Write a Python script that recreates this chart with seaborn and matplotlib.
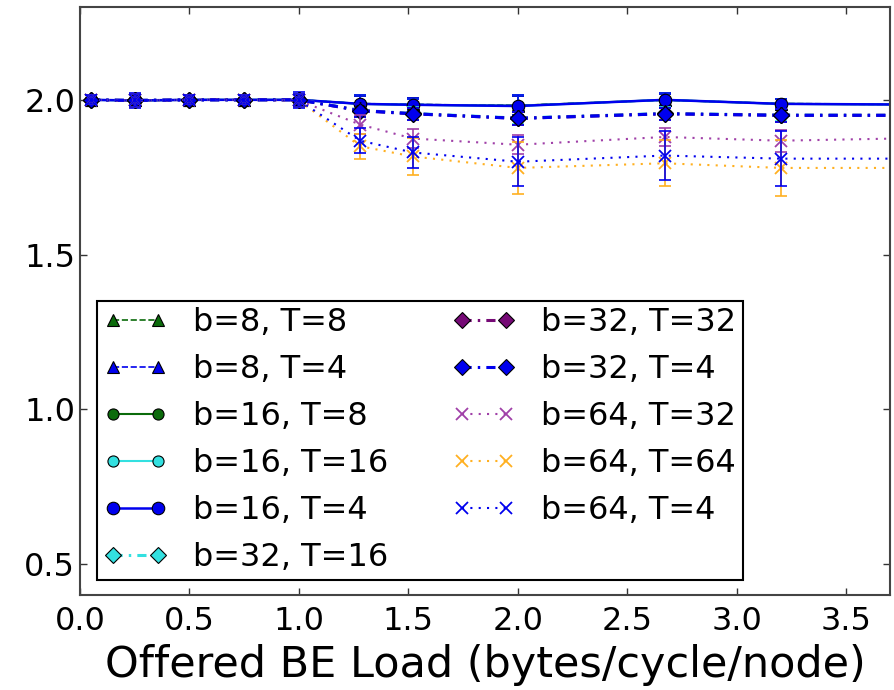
import matplotlib
matplotlib.use("Agg")
import matplotlib.pyplot as plt
import pandas as pd
import seaborn as sns

# Offered best-effort load (bytes/cycle/node)
load = [0.05, 0.25, 0.5, 0.75, 1.0, 1.28, 1.52, 2.0, 2.67, 3.2, 3.73]

# Mean throughput and error per configuration
b8_t8 = [2.0, 1.998, 2.0, 2.0, 2.0, 1.988, 1.985, 1.982, 1.999, 1.988, 1.986]
b8_t8_err = [0.015, 0.02, 0.015, 0.015, 0.02, 0.025, 0.02, 0.03, 0.02, 0.015, 0.015]
b8_t4 = [2.0, 1.998, 2.0, 2.0, 2.0, 1.987, 1.985, 1.981, 2.0, 1.987, 1.985]
b8_t4_err = [0.015, 0.02, 0.015, 0.015, 0.02, 0.025, 0.02, 0.03, 0.02, 0.015, 0.015]
b16_t8 = [2.0, 1.998, 2.0, 2.0, 2.0, 1.987, 1.984, 1.981, 2.0, 1.987, 1.985]
b16_t8_err = [0.015, 0.02, 0.015, 0.015, 0.02, 0.03, 0.02, 0.035, 0.023, 0.015, 0.015]
b16_t16 = [2.0, 1.998, 2.0, 2.0, 2.0, 1.987, 1.984, 1.98, 2.0, 1.987, 1.985]
b16_t16_err = [0.015, 0.02, 0.015, 0.015, 0.02, 0.03, 0.02, 0.035, 0.023, 0.015, 0.015]
b16_t4 = [2.0, 1.998, 2.0, 2.0, 2.0, 1.987, 1.984, 1.98, 2.0, 1.987, 1.985]
b16_t4_err = [0.015, 0.025, 0.015, 0.015, 0.025, 0.03, 0.02, 0.035, 0.023, 0.015, 0.015]
b32_t16 = [2.0, 1.998, 2.0, 2.0, 2.0, 1.966, 1.956, 1.941, 1.956, 1.951, 1.95]
b32_t16_err = [0.015, 0.02, 0.015, 0.015, 0.02, 0.02, 0.02, 0.02, 0.02, 0.02, 0.02]
b32_t32 = [2.0, 1.998, 2.0, 2.0, 2.0, 1.965, 1.955, 1.94, 1.955, 1.95, 1.95]
b32_t32_err = [0.015, 0.02, 0.015, 0.015, 0.02, 0.02, 0.02, 0.02, 0.02, 0.02, 0.02]
b32_t4 = [2.0, 1.998, 2.0, 2.0, 2.0, 1.965, 1.955, 1.94, 1.955, 1.95, 1.95]
b32_t4_err = [0.015, 0.02, 0.015, 0.015, 0.02, 0.02, 0.02, 0.02, 0.02, 0.02, 0.02]
b64_t32 = [2.0, 1.998, 2.0, 2.0, 1.998, 1.92, 1.875, 1.855, 1.88, 1.868, 1.875]
b64_t32_err = [0.015, 0.02, 0.015, 0.015, 0.02, 0.03, 0.03, 0.03, 0.03, 0.035, 0.03]
b64_t64 = [2.0, 1.998, 2.0, 2.0, 1.998, 1.85, 1.817, 1.78, 1.795, 1.78, 1.78]
b64_t64_err = [0.015, 0.02, 0.015, 0.015, 0.02, 0.04, 0.06, 0.085, 0.075, 0.09, 0.08]
b64_t4 = [2.0, 1.998, 2.0, 2.0, 1.998, 1.868, 1.83, 1.80, 1.82, 1.81, 1.81]
b64_t4_err = [0.015, 0.02, 0.015, 0.015, 0.02, 0.04, 0.05, 0.08, 0.08, 0.09, 0.08]

labels = ["b=8, T=8", "b=8, T=4", "b=16, T=8", "b=16, T=16", "b=16, T=4",
          "b=32, T=16", "b=32, T=32", "b=32, T=4",
          "b=64, T=32", "b=64, T=64", "b=64, T=4"]
means = [b8_t8, b8_t4, b16_t8, b16_t16, b16_t4,
         b32_t16, b32_t32, b32_t4, b64_t32, b64_t64, b64_t4]
errors = [b8_t8_err, b8_t4_err, b16_t8_err, b16_t16_err, b16_t4_err,
          b32_t16_err, b32_t32_err, b32_t4_err, b64_t32_err, b64_t64_err, b64_t4_err]

GREEN = "#0b6b0b"
BLUE = "#0000ee"
CYAN = "#33e0e0"
PURPLE = "#760a76"
ORANGE = "#ffb020"
XPURPLE = "#a040a8"

dashdot = (0, (3, 2, 0.8, 2))
dotted = (0, (1, 3))
styles = [
    dict(color=GREEN, marker="^", linestyle="--", lw=1.2, ms=8),
    dict(color=BLUE, marker="^", linestyle="--", lw=1.2, ms=8),
    dict(color=GREEN, marker="o", linestyle="-", lw=1.5, ms=8),
    dict(color=CYAN, marker="o", linestyle="-", lw=1.5, ms=8),
    dict(color=BLUE, marker="o", linestyle="-", lw=1.8, ms=9),
    dict(color=CYAN, marker="D", linestyle=dashdot, lw=2.2, ms=8),
    dict(color=PURPLE, marker="D", linestyle=dashdot, lw=2.2, ms=8),
    dict(color=BLUE, marker="D", linestyle=dashdot, lw=2.2, ms=8),
    dict(color=XPURPLE, marker="x", linestyle=dotted, lw=1.5, ms=8),
    dict(color=ORANGE, marker="x", linestyle=dotted, lw=1.5, ms=8),
    dict(color=BLUE, marker="x", linestyle=dotted, lw=1.5, ms=8),
]

sns.set_style("ticks")
plt.rcParams["font.family"] = ["DejaVu Sans"]
plt.rcParams["text.color"] = "black"
plt.rcParams["axes.labelcolor"] = "black"

fig = plt.figure(figsize=(8.94, 6.9), dpi=100)
ax = fig.add_axes([80 / 894, 1 - 595 / 690, 810 / 894, 588 / 690])

for lab, ys, errs, st in zip(labels, means, errors, styles):
    df = pd.DataFrame({"load": load, "throughput": ys})
    edge = st["color"] if st["marker"] == "x" else "black"
    ax.errorbar(load, ys, yerr=errs, fmt="none", ecolor=st["color"],
                elinewidth=1.2, capsize=4, capthick=1.2, label="_nolegend_")
    sns.lineplot(data=df, x="load", y="throughput", ax=ax, label=lab,
                 color=st["color"], marker=st["marker"], linestyle=st["linestyle"],
                 linewidth=st["lw"], markersize=st["ms"], markeredgecolor=edge,
                 markeredgewidth=1.3 if st["marker"] == "x" else 0.8,
                 sort=False, errorbar=None)

ax.set_xlim(0, 3.7)
ax.set_ylim(0.4, 2.3)
ax.set_xticks([0.0, 0.5, 1.0, 1.5, 2.0, 2.5, 3.0, 3.5])
ax.set_yticks([0.5, 1.0, 1.5, 2.0])
ax.set_xticklabels([f"{v:.1f}" for v in ax.get_xticks()])
ax.set_yticklabels([f"{v:.1f}" for v in ax.get_yticks()])
ax.tick_params(axis="both", direction="in", top=True, right=True,
               length=5, width=1, labelsize=23, colors="#333333", labelcolor="black")
ax.tick_params(axis="x", pad=8)
ax.set_xlabel("Offered BE Load (bytes/cycle/node)", fontsize=31, labelpad=5,
              color="black")
ax.set_ylabel("")
for sp in ax.spines.values():
    sp.set_visible(True)
    sp.set_color("#444444")
    sp.set_linewidth(1.5)

handles, labs = ax.get_legend_handles_labels()
leg = ax.legend(handles, labs, ncol=2, loc="lower left",
                bbox_to_anchor=(0.021, 0.026), borderaxespad=0, fontsize=23,
                handlelength=2.0, handletextpad=0.8, labelspacing=0.5,
                columnspacing=2.0, numpoints=2, fancybox=False,
                edgecolor="black", framealpha=1, borderpad=0.2,
                labelcolor="black")
leg.get_frame().set_linewidth(1.5)

fig.savefig("out.png", dpi=100)
